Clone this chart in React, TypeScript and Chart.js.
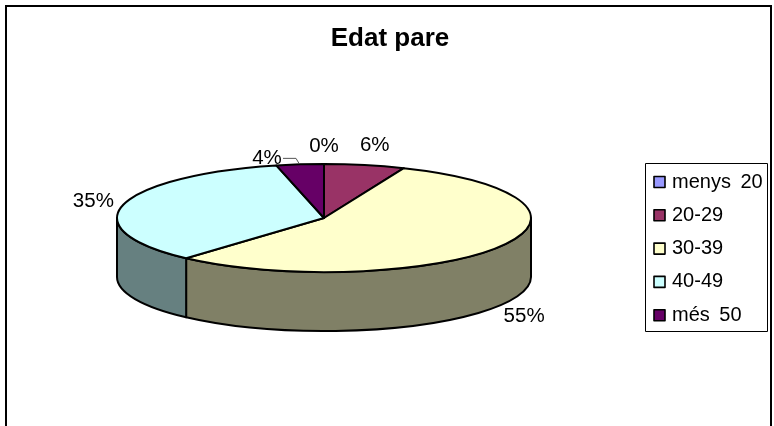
import React, { useEffect, useRef } from "react";
import { Chart, registerables } from "chart.js";

Chart.register(...registerables);

const titleText = "Edat pare";
const categories = ["menys 20", "20-29", "30-39", "40-49", "més 50"];
const shares = [0, 6.3, 55.3, 34.7, 3.7];
const percentLabels = ["0%", "6%", "55%", "35%", "4%"];
const topColors = ["#9999FF", "#993366", "#FFFFCC", "#CCFFFF", "#660066"];
const sideColors = ["#4D4D80", "#4D1A33", "#808066", "#668080", "#330033"];

const FONT = '"Liberation Sans", Arial, sans-serif';
const SQUASH = 54 / 207;
const DEPTH = 59;

const pie3d = {
  id: "pie3d",
  beforeDatasetsDraw(chart: any) {
    const { ctx, width, height } = chart;
    const arcs = chart.getDatasetMeta(0).data;
    const { x: cx, y: cy, outerRadius: rx } = arcs[0];
    const ry = rx * SQUASH;

    ctx.save();
    ctx.fillStyle = "#FFFFFF";
    ctx.fillRect(0, 0, width, height);

    // frame
    ctx.strokeStyle = "#000000";
    ctx.lineWidth = 2;
    ctx.strokeRect(6, 6, 765, 440);

    // walls
    ctx.lineWidth = 2;
    ctx.lineJoin = "round";
    arcs.forEach((arc: any, i: number) => {
      const a0 = Math.max(arc.startAngle, 0);
      const a1 = Math.min(arc.endAngle, Math.PI);
      if (a1 <= a0) return;
      ctx.beginPath();
      ctx.ellipse(cx, cy, rx, ry, 0, a0, a1);
      ctx.lineTo(cx + rx * Math.cos(a1), cy + ry * Math.sin(a1) + DEPTH);
      ctx.ellipse(cx, cy + DEPTH, rx, ry, 0, a1, a0, true);
      ctx.closePath();
      ctx.fillStyle = sideColors[i];
      ctx.fill();
      ctx.stroke();
    });

    // top faces
    arcs.forEach((arc: any, i: number) => {
      ctx.beginPath();
      ctx.moveTo(cx, cy);
      ctx.ellipse(cx, cy, rx, ry, 0, arc.startAngle, arc.endAngle);
      ctx.closePath();
      ctx.fillStyle = topColors[i];
      ctx.fill();
      ctx.stroke();
    });

    // percent labels, placed around the rim from each slice's mid angle
    const nudges = [
      [0, -18],
      [10, -20],
      [25, 70],
      [-30, -3],
      [-33, -6],
    ];
    ctx.fillStyle = "#000000";
    ctx.font = `20.5px ${FONT}`;
    ctx.textAlign = "center";
    ctx.textBaseline = "middle";
    arcs.forEach((arc: any, i: number) => {
      const mid = (arc.startAngle + arc.endAngle) / 2;
      const px = cx + rx * Math.cos(mid);
      const py = cy + ry * Math.sin(mid);
      ctx.fillText(percentLabels[i], px + nudges[i][0], py + nudges[i][1]);
    });

    // leader line of the smallest slice
    const small = arcs[4];
    const smallMid = (small.startAngle + small.endAngle) / 2;
    const sx = cx + rx * Math.cos(smallMid);
    const sy = cy + ry * Math.sin(smallMid);
    ctx.strokeStyle = "#555555";
    ctx.lineWidth = 1;
    ctx.beginPath();
    ctx.moveTo(sx - 17, sy - 6);
    ctx.lineTo(sx - 4, sy - 6);
    ctx.lineTo(sx - 1, sy - 1);
    ctx.stroke();

    // title
    ctx.font = `bold 26px ${FONT}`;
    ctx.fillText(titleText, 390, 39);

    // legend
    ctx.strokeStyle = "#000000";
    ctx.lineWidth = 1;
    ctx.strokeRect(645.5, 163.5, 122, 168);
    ctx.font = `20px ${FONT}`;
    (ctx as any).wordSpacing = "4px";
    ctx.textAlign = "left";
    categories.forEach((name, i) => {
      const y = 182 + i * 33.3;
      ctx.fillStyle = topColors[i];
      ctx.lineWidth = 1.6;
      ctx.fillRect(654, y - 5.5, 11, 11);
      ctx.strokeRect(654, y - 5.5, 11, 11);
      ctx.fillStyle = "#000000";
      ctx.fillText(name, 672, y);
    });
    (ctx as any).wordSpacing = "0px";
    ctx.restore();
    return false;
  },
};

export default function App() {
  const ref = useRef<HTMLCanvasElement>(null);
  useEffect(() => {
    const chart = new Chart(ref.current as HTMLCanvasElement, {
      type: "pie",
      data: {
        labels: categories,
        datasets: [{ data: shares, backgroundColor: topColors, borderWidth: 0 }],
      },
      options: {
        animation: false,
        responsive: false,
        layout: { padding: { left: 117, right: 243, top: 11, bottom: 1 } },
        plugins: {
          legend: { display: false },
          title: { display: false },
          tooltip: { enabled: false },
        },
      },
      plugins: [pie3d],
    } as any);
    return () => chart.destroy();
  }, []);
  return (
    <div style={{ position: "absolute", left: 0, top: 0, width: 774, height: 426, background: "#fff" }}>
      <canvas ref={ref} width={774} height={426} style={{ display: "block" }} />
    </div>
  );
}
